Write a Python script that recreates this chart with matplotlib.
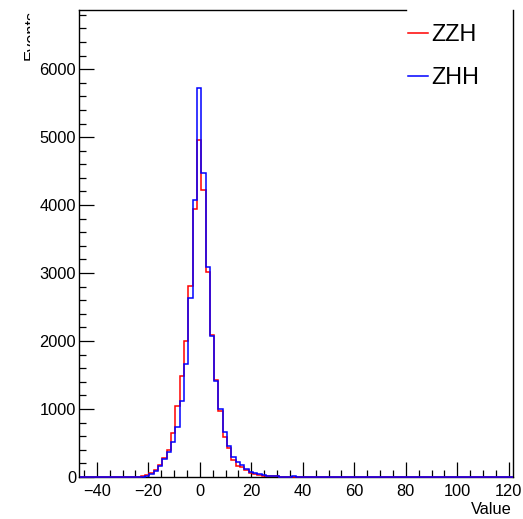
import numpy as np
import matplotlib
matplotlib.use("Agg")
import matplotlib.pyplot as plt
from matplotlib.lines import Line2D
from matplotlib.ticker import MultipleLocator
from matplotlib.transforms import Bbox

# binning shared by both histograms
x_lo, x_hi, n_bins = -46.5, 121.5, 100
first_bin = 13  # bins before this one (and after the lists) are empty

zzh_counts = [3, 10, 29, 54, 103, 176, 279, 397, 643, 1050, 1485, 2000, 2813, 3940,
              4956, 4220, 3010, 2093, 1426, 975, 593, 422, 250, 160, 140, 103, 62,
              45, 30, 22, 15, 10, 8, 5, 3, 2, 1, 0]
zhh_counts = [0, 3, 15, 39, 93, 162, 260, 373, 520, 735, 1115, 1665, 2640, 4080,
              5725, 4475, 3084, 2075, 1416, 995, 666, 456, 299, 225, 176, 113, 78,
              59, 40, 30, 20, 14, 10, 7, 5, 4, 8, 2]
labels = ["ZZH", "ZHH"]
x_title = "Value"
y_title = "Events"


def full_hist(counts):
    h = np.zeros(n_bins)
    h[first_bin:first_bin + len(counts)] = counts
    return h


edges = np.linspace(x_lo, x_hi, n_bins + 1)

plt.rcParams['font.family'] = ['Liberation Sans', 'DejaVu Sans']
W, H = 523, 519
fig = plt.figure(figsize=(W / 100, H / 100), dpi=100)
ax = fig.add_axes([79 / W, 1 - 477 / H, (513 - 79) / W, (477 - 10) / H])

ax.stairs(full_hist(zzh_counts), edges, color='red', lw=1.1, clip_on=False, zorder=3)
ax.stairs(full_hist(zhh_counts), edges, color='blue', lw=1.1, clip_on=False, zorder=3)

ax.set_xlim(-46.9, 121.6)
ax.set_ylim(0, 6870)
ax.xaxis.set_major_locator(MultipleLocator(20))
ax.xaxis.set_minor_locator(MultipleLocator(5))
ax.yaxis.set_major_locator(MultipleLocator(1000))
ax.yaxis.set_minor_locator(MultipleLocator(200))
ax.tick_params(which='both', direction='in', top=False, right=False, width=0.9)
ax.tick_params(which='major', length=10.5)
ax.tick_params(which='minor', length=5)
ax.tick_params(axis='y', labelsize=11.8, pad=2)
ax.tick_params(axis='x', labelsize=11.8, pad=5)
for s in ax.spines.values():
    s.set_linewidth(1.0)
# legend box hides the end of the top frame line
ax.spines['top'].set_bounds(-46.9, 80)

handles = [Line2D([], [], color='red', lw=1.1), Line2D([], [], color='blue', lw=1.1)]
ax.legend(handles, labels, loc='upper left', bbox_to_anchor=(403 / W, 1 - 18 / H),
          bbox_transform=fig.transFigure, frameon=False, fontsize=16.8,
          handlelength=0.86, handletextpad=0.17, labelspacing=0.87,
          borderpad=0.2, borderaxespad=0)

fig.text(512 / W, 1 - 510 / H, x_title, ha='right', va='center', fontsize=11.8)
t = fig.text(36 / W, 1 - 10 / H, y_title, rotation=90, rotation_mode='anchor',
             ha='right', va='baseline', fontsize=11.8)
t.set_clip_box(Bbox.from_extents(0, 0, 30, H))
t.set_clip_on(True)

fig.savefig("out.png", dpi=100)
